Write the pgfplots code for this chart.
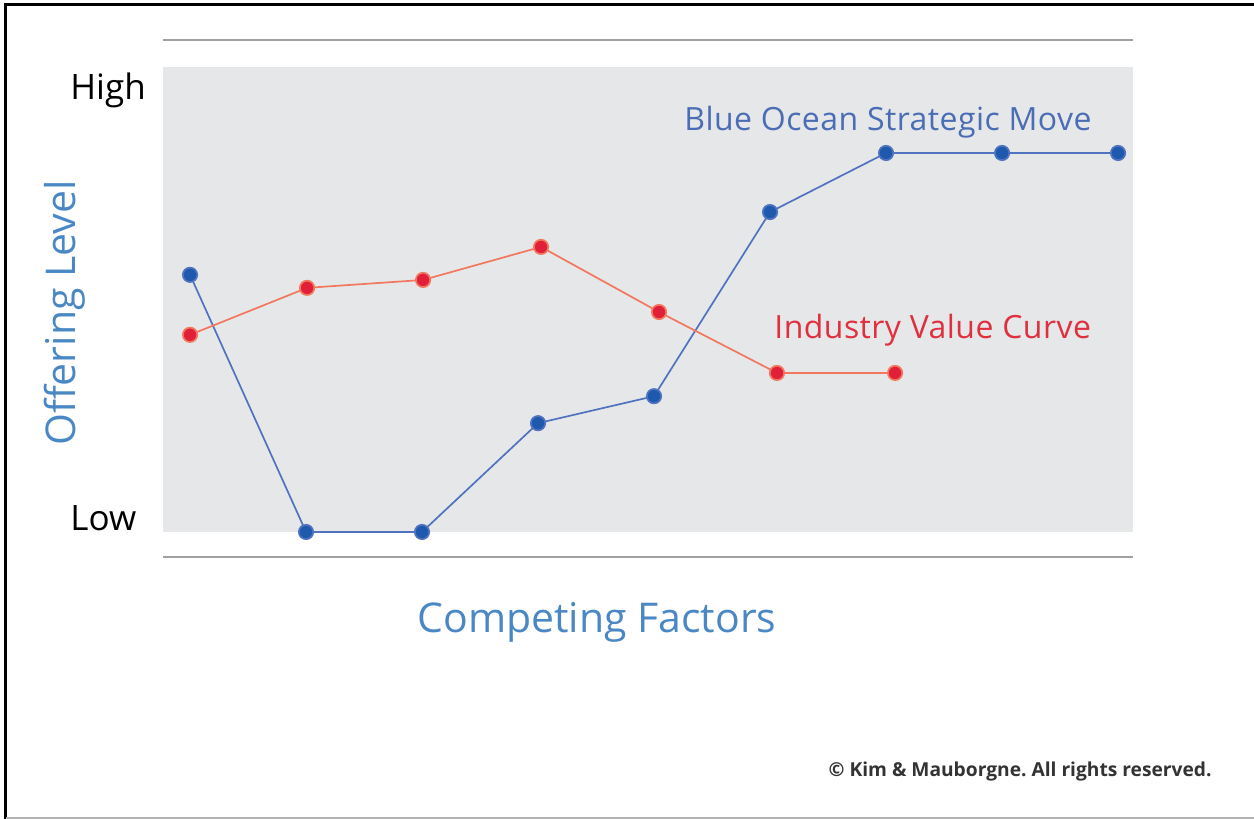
\documentclass[border=0pt]{standalone}
\usepackage{pgfplots}
\pgfplotsset{compat=1.18}
\usepackage{fontspec}
\setmainfont{Open Sans}
\newfontfamily\spaced[LetterSpace=1.4]{Open Sans}
\frenchspacing

\definecolor{bgray}{HTML}{E6E7E8}
\definecolor{axgray}{HTML}{A0A0A0}
\definecolor{blueline}{HTML}{5073C0}
\definecolor{bluedot}{HTML}{1F59AD}
\definecolor{redline}{HTML}{F2775F}
\definecolor{reddot}{HTML}{E21F38}
\definecolor{labblue}{HTML}{4A88C5}
\definecolor{curveblue}{HTML}{4A6DB6}
\definecolor{curvered}{HTML}{E0303F}

\begin{document}
\begin{tikzpicture}
  % the axis: 1 px of the reference = 0.5pt
  \begin{axis}[
      at={(0,0)}, anchor=south west,
      width=485pt, height=258.5pt, scale only axis,
      xmin=0.767, xmax=9.129,
      ymin=-0.538, ymax=10.58,
      ticks=none,
      separate axis lines,
      x axis line style={draw=axgray, line width=0.6pt},
      y axis line style={draw=none},
      set layers,
      clip=false,
    ]
    \begin{pgfonlayer}{axis background}
      \fill[bgray] (rel axis cs:0,0.04836) rectangle (rel axis cs:1,0.9478);
    \end{pgfonlayer}

    % Blue Ocean Strategic Move
    \addplot[blueline, line width=0.85pt, mark=*, mark size=3.6pt,
             mark options={draw=none, fill=bluedot}] coordinates {
      (1, 5.53) (2, 0) (3, 0) (4, 2.34) (5, 2.92)
      (6, 6.88) (7, 8.15) (8, 8.15) (9, 8.15) };

    % Industry Value Curve
    \addplot[redline, line width=0.85pt, mark=*, mark size=3.6pt,
             mark options={draw=none, fill=reddot}] coordinates {
      (1, 4.24) (2.009, 5.25) (3.009, 5.42) (4.026, 6.13)
      (5.043, 4.73) (6.060, 3.42) (7.078, 3.42) };
  \end{axis}

  % page furniture in reference pixels
  \begin{scope}[shift={(-81.5pt,278.5pt)}, x=0.5pt, y=-0.5pt]
    \path[use as bounding box] (0,0) rectangle (1254,819);
    \draw[black, line width=1.5pt] (6,819) -- (6,5) -- (1254,5);
    \draw[axgray!80, line width=0.7pt] (6,818) -- (1254,818);

    \node[anchor=base west, inner sep=0pt, font=\fontsize{17.5}{20}\selectfont] at (70,100) {High};
    \node[anchor=base west, inner sep=0pt, font=\fontsize{17.5}{20}\selectfont] at (70,531) {Low};
    \node[rotate=90, inner sep=0pt, text=labblue, font=\fontsize{20.5}{24}\selectfont] at (65,313) {Offering Level};
    \node[inner sep=0pt, text=labblue, font=\fontsize{20.5}{24}\selectfont] at (597,622) {Competing Factors};
    \node[anchor=base west, inner sep=0pt, text=curveblue, font=\spaced\fontsize{16}{19}\selectfont] at (684,131) {Blue Ocean Strategic Move};
    \node[anchor=base west, inner sep=0pt, text=curvered, font=\spaced\fontsize{16}{19}\selectfont] at (774,339) {Industry Value Curve};
    \node[anchor=base east, inner sep=0pt, text=black!80, font=\bfseries\fontsize{9.6}{12}\selectfont] at (1212,776) {© Kim \& Mauborgne. All rights reserved.};
  \end{scope}
\end{tikzpicture}
\end{document}
